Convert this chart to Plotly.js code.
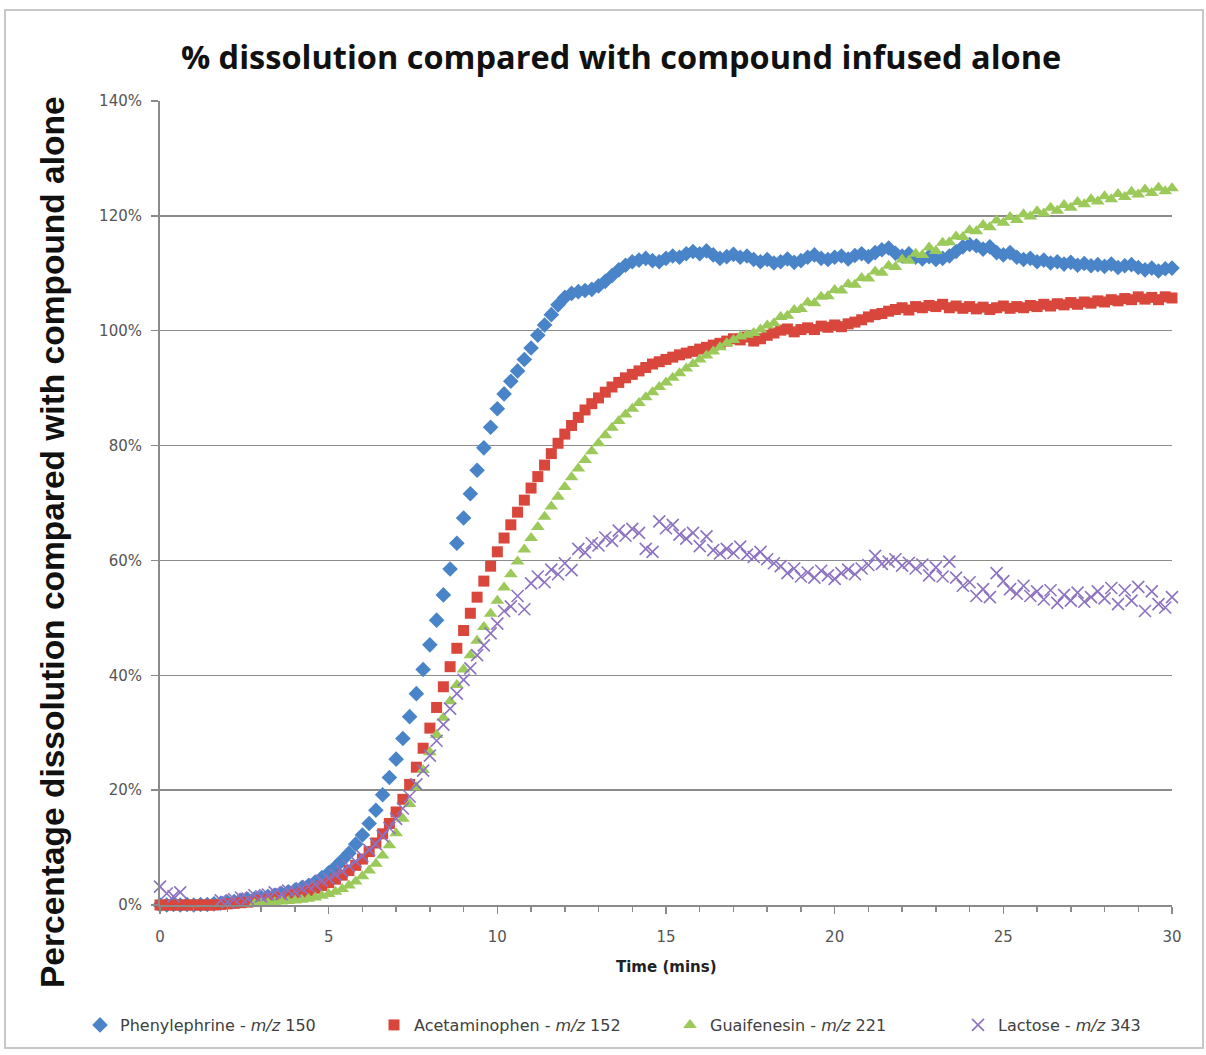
<!DOCTYPE html>
<html>
<head>
<meta charset="utf-8">
<script src="https://cdn.plot.ly/plotly-3.0.1.min.js"></script>
<style>
html,body{margin:0;padding:0;background:#fff;}
#frame{position:absolute;left:4px;top:9px;width:1196px;height:1036px;border:2px solid #c8c8c8;}
#chart{position:absolute;left:0;top:0;width:1206px;height:1055px;}
</style>
</head>
<body>
<div id="frame"></div>
<div id="chart"></div>
<script>
const timeMins = [
0,0.2,0.4,0.6,0.8,1.0,1.2,1.4,1.6,1.8,
2.0,2.2,2.4,2.6,2.8,3.0,3.2,3.4,3.6,3.8,
4.0,4.2,4.4,4.6,4.8,5.0,5.2,5.4,5.6,5.8,
6.0,6.2,6.4,6.6,6.8,7.0,7.2,7.4,7.6,7.8,
8.0,8.2,8.4,8.6,8.8,9.0,9.2,9.4,9.6,9.8,
10.0,10.2,10.4,10.6,10.8,11.0,11.2,11.4,11.6,11.8,
12.0,12.2,12.4,12.6,12.8,13.0,13.2,13.4,13.6,13.8,
14.0,14.2,14.4,14.6,14.8,15.0,15.2,15.4,15.6,15.8,
16.0,16.2,16.4,16.6,16.8,17.0,17.2,17.4,17.6,17.8,
18.0,18.2,18.4,18.6,18.8,19.0,19.2,19.4,19.6,19.8,
20.0,20.2,20.4,20.6,20.8,21.0,21.2,21.4,21.6,21.8,
22.0,22.2,22.4,22.6,22.8,23.0,23.2,23.4,23.6,23.8,
24.0,24.2,24.4,24.6,24.8,25.0,25.2,25.4,25.6,25.8,
26.0,26.2,26.4,26.6,26.8,27.0,27.2,27.4,27.6,27.8,
28.0,28.2,28.4,28.6,28.8,29.0,29.2,29.4,29.6,29.8,
30.0];

const phenylephrine = [
0.0,0.0,0.1,0.0,0.1,0.0,0.1,0.1,0.2,0.3,
0.5,0.6,0.8,1.0,1.1,1.3,1.5,1.7,2.0,2.3,
2.6,3.0,3.4,4.0,4.8,5.6,6.6,7.8,9.0,10.6,
12.2,14.2,16.5,19.2,22.2,25.4,29.0,32.8,36.8,41.0,
45.3,49.6,54.0,58.5,63.0,67.4,71.6,75.7,79.6,83.2,
86.4,89.0,91.2,93.0,95.0,97.0,99.2,101.0,102.8,104.5,
105.8,106.5,106.8,107.0,107.2,107.8,108.6,109.6,110.6,111.4,
112.0,112.3,112.6,112.2,112.0,112.6,113.0,112.8,113.4,113.8,
113.4,113.9,113.2,112.6,112.9,113.3,112.8,113.0,112.4,112.0,
112.4,111.8,112.0,112.5,111.9,112.2,112.8,113.2,112.6,112.4,
112.8,113.0,112.5,113.1,113.4,112.9,113.6,114.1,114.4,113.5,
113.0,113.4,112.8,112.5,112.9,112.4,112.6,113.0,113.8,114.6,
115.0,114.8,114.2,114.6,113.6,113.2,113.6,112.8,112.4,112.6,
112.0,112.3,111.8,112.0,111.6,111.9,111.4,111.7,111.3,111.5,
111.2,111.6,111.0,111.3,111.5,111.0,110.6,110.9,110.4,110.8,
110.9];

const acetaminophen = [
0,0,0,0,0,0,0,0,0,0.1,
0.2,0.3,0.4,0.5,0.6,0.8,0.9,1.1,1.3,1.5,
1.8,2.1,2.5,2.9,3.4,3.9,4.5,5.2,6.0,6.9,
8.0,9.3,10.8,12.4,14.2,16.2,18.4,21.0,24.0,27.3,
30.8,34.4,38.0,41.5,44.7,47.8,50.8,53.6,56.4,59.0,
61.5,63.9,66.2,68.4,70.5,72.6,74.6,76.6,78.6,80.4,
82.0,83.5,84.9,86.2,87.3,88.3,89.3,90.2,91.0,91.8,
92.4,93.0,93.6,94.2,94.6,95.0,95.4,95.8,96.1,96.4,
96.8,97.1,97.5,97.8,98.2,98.6,98.4,98.9,98.2,98.6,
99.2,99.6,100.1,100.3,99.8,100.2,100.5,100.2,100.8,100.6,
101.0,100.7,101.2,101.5,101.9,102.4,102.8,103.0,103.4,103.7,
104.0,103.6,104.2,104.0,104.4,104.2,104.6,104.0,104.3,103.9,
104.2,103.8,104.1,103.7,104.0,104.3,103.9,104.2,104.0,104.4,
104.2,104.6,104.3,104.7,104.5,104.9,104.6,105.0,104.8,105.2,
105.0,105.4,105.2,105.6,105.4,105.9,105.5,105.8,105.4,105.9,
105.7];

const guaifenesin = [
null,null,null,null,null,null,null,null,null,null,
null,null,null,null,0.2,0.3,0.4,0.5,0.6,0.7,
0.8,0.9,1.1,1.3,1.6,1.9,2.3,2.8,3.4,4.1,
5.0,6.0,7.2,8.6,10.4,12.5,15.0,17.6,20.5,23.5,
26.6,29.6,32.6,35.5,38.3,41.0,43.5,46.0,48.4,50.7,
53.0,55.3,57.6,59.8,61.9,63.9,65.8,67.6,69.4,71.1,
72.8,74.5,76.0,77.5,79.0,80.4,81.8,83.1,84.3,85.4,
86.4,87.4,88.4,89.3,90.2,91.0,91.8,92.6,93.4,94.2,
95.0,95.7,96.4,97.1,97.8,98.4,99.0,99.3,99.6,100.2,
100.9,101.3,102.4,102.6,103.6,103.8,104.9,104.8,105.9,106.0,
107.1,107.0,108.1,108.0,109.2,109.1,110.3,110.1,111.3,111.1,
112.4,112.2,113.4,113.2,114.5,113.9,115.3,115.4,116.4,116.3,
117.5,117.3,118.4,118.0,119.2,118.8,119.8,119.3,120.3,119.9,
120.8,120.4,121.4,120.9,121.9,121.4,122.4,122.0,122.9,122.5,
123.4,122.9,123.8,123.3,124.2,123.7,124.6,124.0,124.9,124.3,
124.8];

const lactose = [
3.2,2.0,1.5,2.2,null,null,null,null,null,0.8,
0.5,1.0,1.3,1.1,1.7,1.5,1.8,2.2,1.9,2.5,
2.4,2.9,3.3,3.6,4.2,4.6,5.3,5.9,6.8,7.6,
8.5,9.6,10.6,12.0,13.4,15.0,16.8,18.9,21.0,23.4,
26.0,28.6,31.4,34.2,36.8,39.2,41.2,43.5,45.2,47.3,
49.0,51.2,52.0,53.8,51.5,56.0,57.2,56.2,58.4,57.6,
59.5,58.3,62.0,61.4,63.0,62.6,64.0,63.4,65.2,64.3,
65.5,64.8,62.0,61.5,66.8,65.6,66.2,64.5,63.8,64.8,
62.5,64.2,61.8,61.2,62.0,61.3,62.4,61.0,60.6,61.5,
60.2,59.5,59.0,57.8,58.6,57.2,57.9,57.0,58.2,57.4,
56.8,57.8,58.4,57.6,58.6,59.2,60.8,59.4,59.8,60.2,
59.1,59.6,58.6,59.3,57.4,58.8,57.2,59.8,57.0,55.6,
56.2,53.8,55.0,53.6,57.8,56.4,55.0,54.2,55.6,53.8,
54.6,53.2,54.8,52.6,54.0,53.0,54.4,52.8,53.6,54.6,
53.4,55.2,52.4,54.8,53.0,55.4,51.2,54.6,52.4,51.8,
53.6];

const seriesNames = [
  'Phenylephrine - <i>m/z</i> 150',
  'Acetaminophen - <i>m/z</i> 152',
  'Guaifenesin - <i>m/z</i> 221',
  'Lactose - <i>m/z</i> 343'
];
const yTickVals = [0,20,40,60,80,100,120,140];
const yTickText = ['0%','20%','40%','60%','80%','100%','120%','140%'];
const xTickVals = [0,5,10,15,20,25,30];

const chartTitle = '% dissolution compared with compound infused alone';
const xTitle = 'Time (mins)';
const yTitle = 'Percentage dissolution compared with compound alone';

const traces = [
  {x: timeMins, y: phenylephrine, name: seriesNames[0], mode: 'markers', type: 'scatter', cliponaxis: false, legend: 'legend',
   marker: {symbol: 'diamond', size: 12, color: '#4a84c8'}},
  {x: timeMins, y: acetaminophen, name: seriesNames[1], mode: 'markers', type: 'scatter', cliponaxis: false, legend: 'legend2',
   marker: {symbol: 'square', size: 11, color: '#d9473c'}},
  {x: timeMins, y: guaifenesin, name: seriesNames[2], mode: 'markers', type: 'scatter', cliponaxis: false, legend: 'legend3',
   marker: {symbol: 'triangle-up', size: 12, color: '#9bc95a'}},
  {x: timeMins, y: lactose, name: seriesNames[3], mode: 'markers', type: 'scatter', cliponaxis: false, legend: 'legend4',
   marker: {symbol: 'x-thin', size: 12, color: '#8c72c0', line: {color: '#8c72c0', width: 1.6}}}
];

const legendFont = {family: 'DejaVu Sans', size: 16, color: '#404040'};
function legendAt(px) {
  return {orientation: 'h', x: (px - 160) / 1012, xanchor: 'left', y: (905 - 1025) / 804, yanchor: 'middle',
          font: legendFont, bgcolor: 'rgba(0,0,0,0)'};
}

const layout = {
  width: 1206, height: 1055,
  paper_bgcolor: 'rgba(0,0,0,0)', plot_bgcolor: 'rgba(0,0,0,0)',
  margin: {l: 160, r: 34, t: 101, b: 150},
  title: {text: chartTitle, font: {family: 'Open Sans', size: 32.5, color: '#111', weight: 'bold'},
          x: 0.515, xref: 'container', xanchor: 'center', y: 1 - 58/1055, yref: 'container', yanchor: 'middle'},
  showlegend: true,
  legend: legendAt(80),
  legend2: legendAt(374),
  legend3: legendAt(670),
  legend4: legendAt(958),
  xaxis: {range: [0, 30], tickvals: xTickVals, showgrid: false, zeroline: false,
          showline: true, linecolor: '#8a8a8a', linewidth: 2,
          ticks: 'outside', ticklen: 7, tickwidth: 1.5, tickcolor: '#8a8a8a', ticklabelstandoff: 10,
          minor: {dtick: 1, ticks: 'outside', ticklen: 5, tickwidth: 1.5, tickcolor: '#8a8a8a', showgrid: false},
          tickfont: {family: 'DejaVu Sans', size: 15, color: '#555'}},
  yaxis: {range: [0, 140], tickvals: yTickVals, ticktext: yTickText, zeroline: false,
          showgrid: true, gridcolor: '#8c8c8c', gridwidth: 1.5,
          showline: true, linecolor: '#8a8a8a', linewidth: 2,
          ticks: 'outside', ticklen: 7, tickwidth: 1.5, tickcolor: '#8a8a8a', ticklabelstandoff: 6,
          tickfont: {family: 'DejaVu Sans', size: 15, color: '#555'}},
  annotations: [
    {text: '<b>' + xTitle + '</b>', xref: 'paper', yref: 'paper', x: 0.5, y: (905-967)/804,
     xanchor: 'center', yanchor: 'middle', showarrow: false,
     font: {family: 'DejaVu Sans', size: 15, color: '#222'}},
    {text: '<b>' + yTitle + '</b>', xref: 'paper', yref: 'paper', x: (52-160)/1012, y: (905-542)/804,
     xanchor: 'center', yanchor: 'middle', showarrow: false, textangle: -90,
     font: {family: 'Liberation Sans', size: 33.5, color: '#111'}}
  ]
};

Plotly.newPlot('chart', traces, layout, {staticPlot: true, displayModeBar: false});
</script>
</body>
</html>
